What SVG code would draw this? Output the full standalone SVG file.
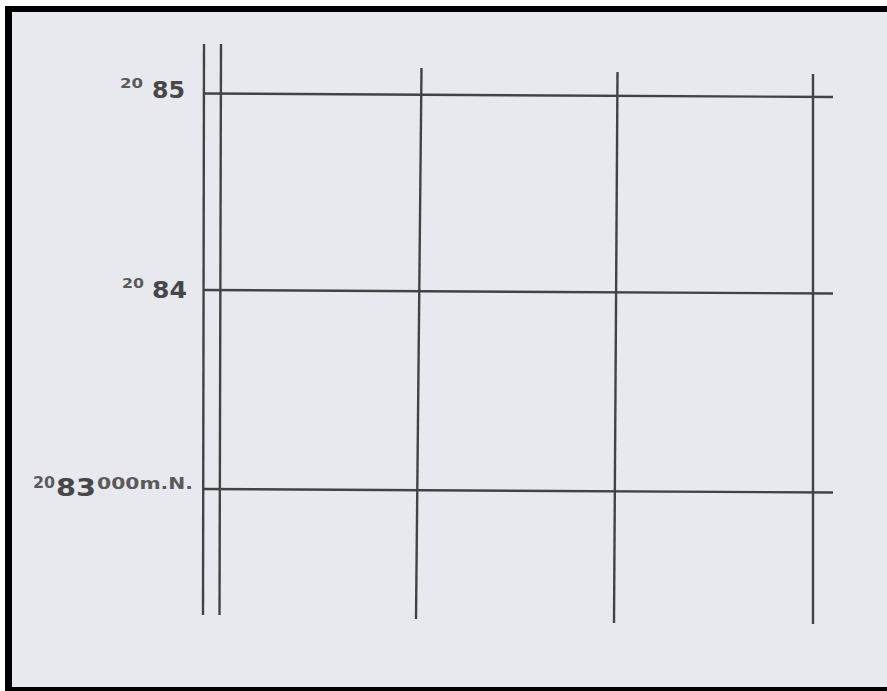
<svg xmlns="http://www.w3.org/2000/svg" width="887" height="691" viewBox="0 0 887 691">
  <style>
    .ln { stroke: #434343; stroke-width: 2.4; fill: none; stroke-linecap: butt; }
    .sm { font-family: "DejaVu Sans", "Liberation Sans", sans-serif; font-weight: bold; fill: #5a5a5a; }
    .bg { font-family: "DejaVu Sans", "Liberation Sans", sans-serif; font-weight: bold; fill: #474747; }
  </style>
  <rect x="0" y="0" width="887" height="691" fill="#ffffff"/>
  <rect x="5" y="6" width="882" height="685" fill="#000000"/>
  <rect x="12" y="12" width="875" height="675" fill="#e8e9ef"/>
  <g id="grid">
    <line class="ln" x1="204" y1="44" x2="203" y2="615"/>
    <line class="ln" x1="221" y1="44" x2="219.5" y2="615"/>
    <line class="ln" x1="421.5" y1="68" x2="416" y2="619"/>
    <line class="ln" x1="617.5" y1="72" x2="614" y2="623"/>
    <line class="ln" x1="813" y1="74" x2="813" y2="624"/>
    <line class="ln" x1="204" y1="93.5" x2="833" y2="97"/>
    <line class="ln" x1="204" y1="290" x2="833" y2="293.5"/>
    <line class="ln" x1="204" y1="489" x2="833" y2="492.5"/>
  </g>
  <g id="label-2085">
    <text class="sm" x="120" y="87.5" font-size="14" textLength="23" lengthAdjust="spacingAndGlyphs">20</text>
    <text class="bg" x="152" y="98" font-size="23" textLength="33" lengthAdjust="spacingAndGlyphs">85</text>
  </g>
  <g id="label-2084">
    <text class="sm" x="122" y="287.5" font-size="14" textLength="22" lengthAdjust="spacingAndGlyphs">20</text>
    <text class="bg" x="152" y="298" font-size="23" textLength="35" lengthAdjust="spacingAndGlyphs">84</text>
  </g>
  <g id="label-2083">
    <text class="sm" x="33" y="487.5" font-size="16.5" textLength="22" lengthAdjust="spacingAndGlyphs">20</text>
    <text class="bg" x="56" y="495.5" font-size="24" textLength="40" lengthAdjust="spacingAndGlyphs">83</text>
    <text class="sm" x="97" y="488.5" font-size="16" textLength="96" lengthAdjust="spacingAndGlyphs">000m.N.</text>
  </g>
</svg>
